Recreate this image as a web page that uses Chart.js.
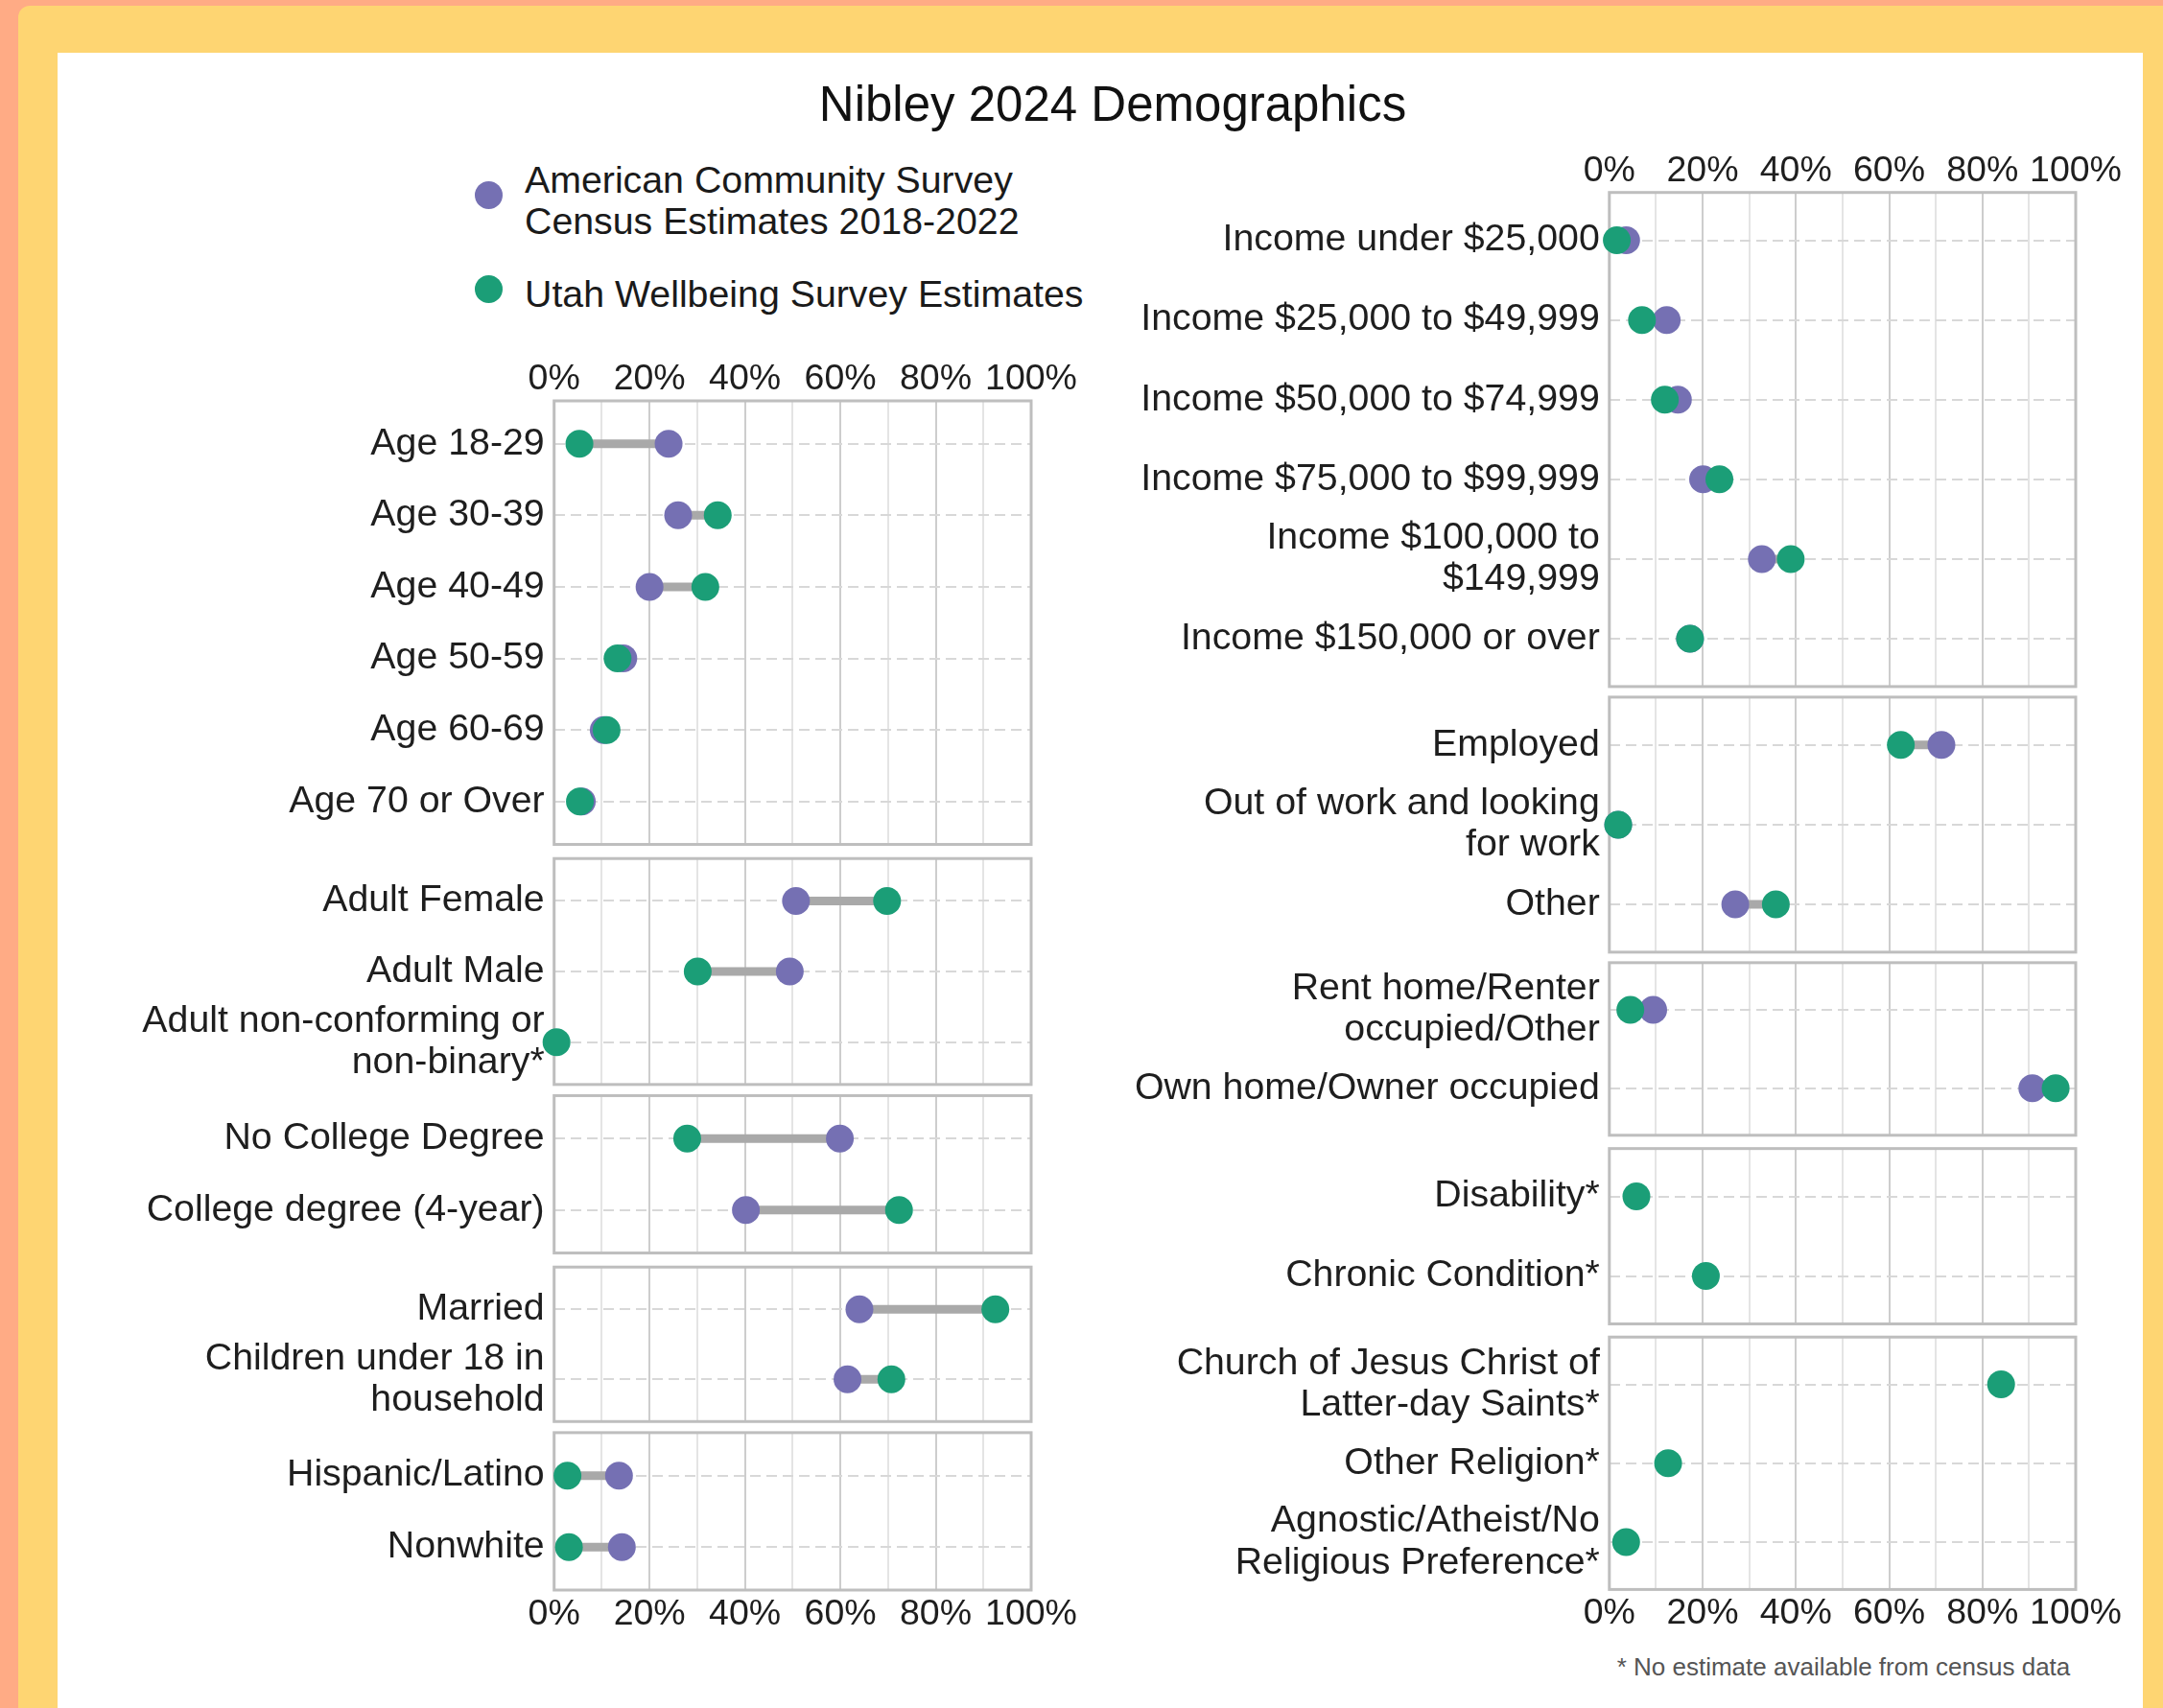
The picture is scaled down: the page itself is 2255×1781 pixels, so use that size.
<!DOCTYPE html>
<html>
<head>
<meta charset="utf-8">
<title>Nibley 2024 Demographics</title>
<script src="https://cdn.jsdelivr.net/npm/chart.js@4.4.1/dist/chart.umd.min.js"></script>
<style>
  html, body { margin: 0; padding: 0; }
  body {
    width: 2255px; height: 1781px; position: relative; overflow: hidden;
    background: #FFAB85;
    font-family: "Liberation Sans", Arial, sans-serif;
  }
  #frame { position: absolute; left: 19px; top: 6px; width: 2300px; height: 1900px;
           background: #FED572; border-top-left-radius: 12px; }
  #sheet { position: absolute; left: 60px; top: 55px; width: 2174px; height: 1800px; background: #fff; }
  canvas { position: absolute; }
  .txt { position: absolute; white-space: nowrap; color: #1a1a1a; }
  .dot { position: absolute; width: 29px; height: 29px; border-radius: 50%; }
</style>
</head>
<body>
<div id="frame"></div>
<div id="sheet"></div>

<div class="txt" style="left:560px; width:1200px; top:83px; font-size:51px; line-height:51px; text-align:center; color:#111;">Nibley 2024 Demographics</div>

<div class="dot" style="left:494.5px; top:188.5px; background:#7570B3;"></div>
<div class="txt" style="left:547px; top:166px; font-size:39.3px; line-height:43px;">American Community Survey<br>Census Estimates 2018-2022</div>
<div class="dot" style="left:494.5px; top:287px; background:#1B9E77;"></div>
<div class="txt" style="left:547px; top:284.5px; font-size:39.3px; line-height:43px;">Utah Wellbeing Survey Estimates</div>

<div class="txt" style="left:1622px; width:600px; top:1724.5px; font-size:26px; line-height:26px; text-align:center; color:#555;">* No estimate available from census data</div>

<script>
// ---- data (percent) ----
const tickLabels = ["0%", "20%", "40%", "60%", "80%", "100%"];

const ageLabels = ["Age 18-29", "Age 30-39", "Age 40-49", "Age 50-59", "Age 60-69", "Age 70 or Over"];
const ageACS = [24, 26, 20, 14.5, 10.4, 5.8];
const ageUWS = [5.3, 34.3, 31.7, 13.3, 11, 5.4];

const genderLabels = ["Adult Female", "Adult Male", ["Adult non-conforming or", "non-binary*"]];
const genderACS = [50.7, 49.4, null];
const genderUWS = [69.8, 30.1, 0.5];

const eduLabels = ["No College Degree", "College degree (4-year)"];
const eduACS = [59.9, 40.2];
const eduUWS = [27.9, 72.3];

const familyLabels = ["Married", ["Children under 18 in", "household"]];
const familyACS = [64, 61.5];
const familyUWS = [92.5, 70.7];

const raceLabels = ["Hispanic/Latino", "Nonwhite"];
const raceACS = [13.6, 14.2];
const raceUWS = [2.8, 3.1];

const incomeLabels = ["Income under $25,000", "Income $25,000 to $49,999", "Income $50,000 to $74,999",
  "Income $75,000 to $99,999", ["Income $100,000 to", "$149,999"], "Income $150,000 or over"];
const incomeACS = [3.6, 12.3, 14.7, 20.1, 32.7, 17.3];
const incomeUWS = [1.6, 7.0, 11.9, 23.6, 38.9, 17.3];

const workLabels = ["Employed", ["Out of work and looking", "for work"], "Other"];
const workACS = [71.2, 1.9, 27.0];
const workUWS = [62.5, 1.9, 35.7];

const homeLabels = [["Rent home/Renter", "occupied/Other"], "Own home/Owner occupied"];
const homeACS = [9.4, 90.7];
const homeUWS = [4.5, 95.7];

const healthLabels = ["Disability*", "Chronic Condition*"];
const healthACS = [null, null];
const healthUWS = [5.8, 20.7];

const faithLabels = [["Church of Jesus Christ of", "Latter-day Saints*"], "Other Religion*",
  ["Agnostic/Atheist/No", "Religious Preference*"]];
const faithACS = [null, null, null];
const faithUWS = [84, 12.6, 3.6];

// ---- styling / layout ----
const FONT = '"Liberation Sans", Arial, sans-serif';
const TEXT = '#1e1e1e';
const PURPLE = '#7570B3';
const GREEN = '#1B9E77';
const PAD = 50, PAD_R = 60, AXIS_H = 45;

const columns = [
  { canvasLeft: 62, plotLeft: 577.7, plotRight: 1075, top: 418, unit: 74.6, gap: 11.6,
    panels: [
      { labels: ageLabels, acs: ageACS, uws: ageUWS, axis: 'top' },
      { labels: genderLabels, acs: genderACS, uws: genderUWS },
      { labels: eduLabels, acs: eduACS, uws: eduUWS },
      { labels: familyLabels, acs: familyACS, uws: familyUWS },
      { labels: raceLabels, acs: raceACS, uws: raceUWS, axis: 'bottom' }
    ] },
  { canvasLeft: 1130, plotLeft: 1677.8, plotRight: 2164, top: 200.7, unit: 83.1, gap: 11,
    panels: [
      { labels: incomeLabels, acs: incomeACS, uws: incomeUWS, axis: 'top' },
      { labels: workLabels, acs: workACS, uws: workUWS },
      { labels: homeLabels, acs: homeACS, uws: homeUWS },
      { labels: healthLabels, acs: healthACS, uws: healthUWS },
      { labels: faithLabels, acs: faithACS, uws: faithUWS, axis: 'bottom' }
    ] }
];

// panel box drawn under the dots
const panelFrame = {
  id: 'panelFrame',
  beforeDatasetsDraw(chart) {
    const { ctx, chartArea: a } = chart;
    ctx.save();
    ctx.strokeStyle = '#BEBEBE';
    ctx.lineWidth = 3;
    ctx.strokeRect(a.left, a.top, a.right - a.left, a.bottom - a.top);
    ctx.restore();
  }
};

function makePanel(col, p, top, bottom) {
  const topH = p.axis === 'top' ? AXIS_H : 0;
  const botH = p.axis === 'bottom' ? AXIS_H : 0;
  const cTop = Math.floor(top - topH - PAD);
  const cHeight = Math.ceil(bottom + botH + PAD - cTop);
  const cWidth = Math.ceil(col.plotRight + PAD_R - col.canvasLeft);
  const padTop = top - topH - cTop;
  const padBottom = cTop + cHeight - bottom - botH;
  const padRight = col.canvasLeft + cWidth - col.plotRight;

  const canvas = document.createElement('canvas');
  canvas.width = cWidth;
  canvas.height = cHeight;
  canvas.style.left = col.canvasLeft + 'px';
  canvas.style.top = cTop + 'px';
  document.body.appendChild(canvas);

  const n = p.labels.length;
  const uwsPts = [], acsPts = [], segs = [];
  p.labels.forEach((_, i) => {
    if (p.uws[i] != null) uwsPts.push({ x: p.uws[i], y: i });
    if (p.acs[i] != null) acsPts.push({ x: p.acs[i], y: i });
    if (p.uws[i] != null && p.acs[i] != null) {
      segs.push({ x: p.acs[i], y: i }, { x: p.uws[i], y: i }, { x: null, y: null });
    }
  });

  new Chart(canvas, {
    type: 'scatter',
    data: {
      datasets: [
        { label: 'Utah Wellbeing Survey Estimates', data: uwsPts, backgroundColor: GREEN,
          pointRadius: 14.5, pointBorderWidth: 0, clip: false },
        { label: 'American Community Survey Census Estimates 2018-2022', data: acsPts, backgroundColor: PURPLE,
          pointRadius: 14.5, pointBorderWidth: 0, clip: false },
        { type: 'line', label: 'gap', data: segs, borderColor: '#A9A9A9', borderWidth: 9,
          pointRadius: 0, spanGaps: false, borderCapStyle: 'butt', clip: false }
      ]
    },
    options: {
      responsive: false,
      devicePixelRatio: 1,
      animation: false,
      events: [],
      layout: { padding: { left: 0, right: padRight, top: padTop, bottom: padBottom } },
      plugins: { legend: { display: false }, tooltip: { enabled: false }, title: { display: false } },
      scales: {
        x: {
          type: 'linear',
          position: p.axis === 'bottom' ? 'bottom' : 'top',
          min: 0, max: 100,
          ticks: {
            display: !!p.axis, stepSize: 10, autoSkip: false, maxRotation: 0, minRotation: 0,
            padding: p.axis === 'bottom' ? 3 : 0, color: TEXT,
            font: { family: FONT, size: 37.5 },
            callback: v => (Math.round(v) % 20 === 0 ? tickLabels[Math.round(v) / 20] : '')
          },
          grid: {
            drawTicks: false, lineWidth: 2,
            color: c => (c.tick && Math.round(c.tick.value) % 20 === 0 ? '#CDCDCD' : '#E4E4E4')
          },
          border: { display: false },
          afterFit: s => { s.height = p.axis ? AXIS_H : 0; }
        },
        y: {
          type: 'linear', reverse: true,
          min: -0.6, max: n - 0.4,
          afterBuildTicks: s => { s.ticks = p.labels.map((_, i) => ({ value: i })); },
          ticks: {
            autoSkip: false, padding: 10, color: TEXT,
            font: { family: FONT, size: 39.3, lineHeight: 1.1 },
            callback: v => p.labels[v]
          },
          grid: { drawTicks: false, lineWidth: 2, color: '#D8D8D8' },
          border: { display: false, dash: [11, 6] },
          afterFit: s => { s.width = col.plotLeft - col.canvasLeft; }
        }
      }
    },
    plugins: [panelFrame]
  });
}

columns.forEach(col => {
  let top = col.top;
  col.panels.forEach(p => {
    const bottom = top + (p.labels.length + 0.2) * col.unit;
    makePanel(col, p, top, bottom);
    top = bottom + col.gap;
  });
});
</script>
</body>
</html>
